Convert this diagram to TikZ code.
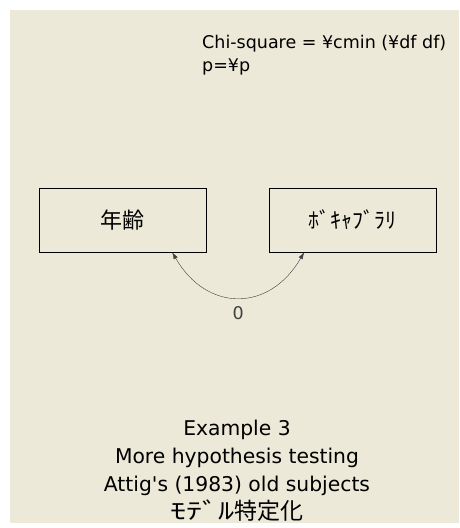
\documentclass[tikz,border=0pt]{standalone}
\usepackage{fontspec}
\setmainfont{Noto Sans CJK JP}
\newfontfamily\latinfont{DejaVu Sans}
\newfontfamily\widekana[FakeStretch=1.4]{Noto Sans CJK JP}
\usetikzlibrary{arrows.meta}
\usetikzlibrary{positioning}
\definecolor{paper}{RGB}{236,233,216}

\begin{document}
\begin{tikzpicture}[
		x=1pt,
		y=1pt,
		>={Latex[length=7pt,width=4.5pt]},
		var box/.style={
			draw,
			thin,
			minimum width=167pt,
			minimum height=64pt,
			inner sep=0pt,
			font=\fontsize{22}{26}\selectfont
		},
		note/.style={
			inner sep=0pt,
			font=\latinfont\fontsize{17.5}{23}\selectfont
		},
		title note/.style={
			inner sep=0pt,
			align=center,
			font=\latinfont\fontsize{20.3}{28}\selectfont
		}
		]
		
		\fill[white] (0,0) rectangle (459,528);
		\fill[paper] (10,5) rectangle (459,518);
		
		\node[var box] (age) at (122.5,308) {年齢};
		\node[var box] (vocab) [right=63pt of age] {ﾎﾞｷｬﾌﾞﾗﾘ};
		
		\node[note, anchor=north west, align=left] (fit) at (202,492.5) {Chi-square = ¥cmin (¥df df)\\p=¥p};
		\node[title note, anchor=north] (title) at (237,108) {Example 3\\More hypothesis testing\\Attig's (1983) old subjects\\{\rmfamily\fontsize{23}{28}\selectfont{\widekana ﾓﾃﾞﾙ}特定化}};
		
		\draw[<->, thin, black!75] ([xshift=-34pt]age.south east) to[out=-60, in=-120, looseness=1.35] node[note, below=9pt] (cov) {0} ([xshift=35pt]vocab.south west);
	\end{tikzpicture}
\end{document}
